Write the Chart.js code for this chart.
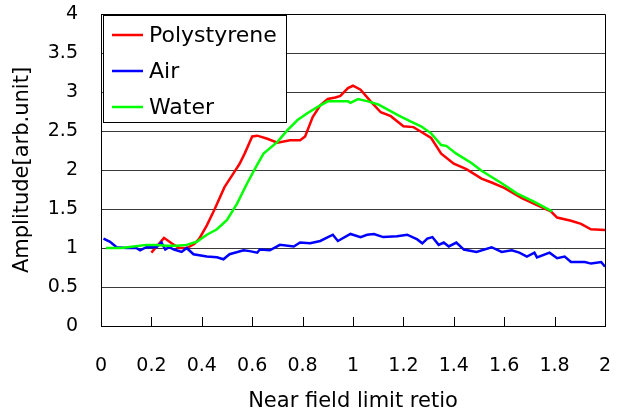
<!DOCTYPE html>
<html>
<head>
<meta charset="utf-8">
<script src="https://cdn.jsdelivr.net/npm/chart.js@4"></script>
<style>
	body { margin: 0; background: #fff; }
	canvas { display: block; }
</style>
</head>
<body>
<canvas id="chart" width="617" height="414"></canvas>
<script>
// values
const seriesNames = ['Polystyrene', 'Air', 'Water'];
const seriesColors = ['#ff0000', '#0000ff', '#00ff00'];

const polyX = [0.20, 0.25, 0.28, 0.31, 0.34, 0.37, 0.39, 0.42, 0.45, 0.49, 0.53, 0.55, 0.57, 0.60, 0.62, 0.66, 0.70, 0.75, 0.79, 0.81, 0.84, 0.87, 0.90, 0.93, 0.95, 0.98, 1.00, 1.03, 1.07, 1.11, 1.15, 1.20, 1.24, 1.27, 1.31, 1.35, 1.40, 1.45, 1.51, 1.55, 1.60, 1.67, 1.73, 1.785, 1.81, 1.865, 1.905, 1.944, 2.0];
const polyY = [0.94, 1.13, 1.06, 1.00, 1.00, 1.05, 1.12, 1.29, 1.49, 1.78, 1.98, 2.08, 2.21, 2.43, 2.44, 2.40, 2.35, 2.38, 2.38, 2.43, 2.68, 2.83, 2.91, 2.93, 2.95, 3.05, 3.08, 3.03, 2.88, 2.74, 2.69, 2.56, 2.55, 2.49, 2.41, 2.21, 2.08, 2.01, 1.89, 1.84, 1.77, 1.64, 1.55, 1.47, 1.39, 1.35, 1.31, 1.24, 1.23];

const airX = [0.01, 0.036, 0.062, 0.10, 0.14, 0.155, 0.18, 0.22, 0.24, 0.255, 0.27, 0.29, 0.32, 0.34, 0.367, 0.42, 0.46, 0.486, 0.51, 0.566, 0.59, 0.62, 0.63, 0.67, 0.71, 0.765, 0.79, 0.83, 0.87, 0.92, 0.94, 0.99, 1.03, 1.056, 1.083, 1.12, 1.175, 1.215, 1.255, 1.275, 1.295, 1.315, 1.34, 1.36, 1.38, 1.41, 1.44, 1.49, 1.55, 1.59, 1.63, 1.66, 1.69, 1.72, 1.73, 1.78, 1.81, 1.84, 1.865, 1.92, 1.945, 1.985, 2.0];
const airY = [1.12, 1.08, 1.01, 1.00, 1.00, 0.97, 1.01, 1.01, 1.07, 0.98, 1.01, 0.98, 0.95, 1.00, 0.92, 0.89, 0.88, 0.855, 0.92, 0.97, 0.96, 0.94, 0.98, 0.97, 1.04, 1.02, 1.07, 1.06, 1.09, 1.17, 1.09, 1.18, 1.14, 1.17, 1.18, 1.14, 1.15, 1.17, 1.11, 1.06, 1.12, 1.14, 1.04, 1.07, 1.02, 1.07, 0.98, 0.95, 1.01, 0.95, 0.97, 0.94, 0.89, 0.94, 0.88, 0.94, 0.87, 0.89, 0.82, 0.82, 0.80, 0.82, 0.76];

const waterX = [0.02, 0.08, 0.13, 0.18, 0.22, 0.26, 0.30, 0.34, 0.38, 0.42, 0.46, 0.50, 0.54, 0.58, 0.62, 0.645, 0.70, 0.74, 0.78, 0.82, 0.86, 0.90, 0.94, 0.98, 0.99, 1.02, 1.06, 1.10, 1.14, 1.18, 1.23, 1.27, 1.31, 1.35, 1.37, 1.41, 1.47, 1.51, 1.55, 1.59, 1.65, 1.72, 1.79];
const waterY = [1.00, 1.00, 1.02, 1.04, 1.04, 1.03, 1.03, 1.04, 1.08, 1.17, 1.24, 1.36, 1.57, 1.83, 2.07, 2.21, 2.36, 2.51, 2.64, 2.73, 2.81, 2.88, 2.88, 2.88, 2.86, 2.91, 2.88, 2.84, 2.77, 2.70, 2.62, 2.56, 2.47, 2.32, 2.31, 2.21, 2.09, 1.99, 1.91, 1.83, 1.70, 1.59, 1.47];

const FONT = 'DejaVu Sans';

function toPoints(xs, ys) {
	let pts = [];
	for (let i = 0; i < xs.length; i++) {
		pts.push({ x: xs[i], y: ys[i] });
	}
	return pts;
}

function makeDataset(idx, xs, ys, order) {
	return {
		label:			seriesNames[idx],
		data:			toPoints(xs, ys),
		borderColor:	seriesColors[idx],
		backgroundColor: seriesColors[idx],
		borderWidth:	2.5,
		pointRadius:	0,
		tension:		0,
		order:			order,
	};
}

// inner tick marks, plot frame and the boxed legend
const framePlugin = {
	id: 'frame',
	afterDatasetsDraw(chart) {
		const ctx = chart.ctx;
		const area = chart.chartArea;
		const xs = chart.scales.x;

		ctx.save();
		ctx.strokeStyle = '#000';
		ctx.lineWidth = 1;

		// upward tick marks on x axis
		xs.ticks.forEach(function(t) {
			let px = Math.round(xs.getPixelForValue(t.value)) + 0.5;
			ctx.beginPath();
			ctx.moveTo(px, area.bottom);
			ctx.lineTo(px, area.bottom - 9);
			ctx.stroke();
		});

		// top and right border
		ctx.beginPath();
		ctx.moveTo(Math.round(area.left), Math.round(area.top) + 0.5);
		ctx.lineTo(Math.round(area.right) + 0.5, Math.round(area.top) + 0.5);
		ctx.lineTo(Math.round(area.right) + 0.5, Math.round(area.bottom));
		ctx.stroke();

		// legend box
		const bx = 103.5, by = 15.5, bw = 183, bh = 107;
		ctx.fillStyle = '#fff';
		ctx.fillRect(bx, by, bw, bh);
		ctx.strokeRect(bx, by, bw, bh);

		ctx.font = '22px "' + FONT + '"';
		ctx.textBaseline = 'middle';
		ctx.textAlign = 'left';
		chart.data.datasets.forEach(function(ds, i) {
			let rowY = 35 + i * 36;
			ctx.strokeStyle = ds.borderColor;
			ctx.lineWidth = 2.5;
			ctx.beginPath();
			ctx.moveTo(112, rowY);
			ctx.lineTo(143, rowY);
			ctx.stroke();
			ctx.fillStyle = '#000';
			ctx.fillText(ds.label, 149, rowY + 1);
		});

		ctx.restore();
	}
};

new Chart(document.getElementById('chart'), {
	type: 'line',
	data: {
		datasets: [
			makeDataset(0, polyX, polyY, 3),
			makeDataset(1, airX, airY, 2),
			makeDataset(2, waterX, waterY, 1),
		]
	},
	options: {
		responsive: false,
		animation: false,
		layout: { padding: { top: 14, right: 12, left: 0, bottom: 0 } },
		plugins: {
			legend: { display: false },
			tooltip: { enabled: false },
		},
		scales: {
			x: {
				type: 'linear',
				min: 0,
				max: 2,
				ticks: {
					stepSize: 0.2,
					padding: 29,
					color: '#000',
					font: { family: FONT, size: 19 },
					maxRotation: 0,
					callback: function(v) { return String(Math.round(v * 10) / 10); }
				},
				grid: { display: true, drawOnChartArea: false, drawTicks: false },
				border: { color: '#000', width: 1 },
				title: {
					display: true,
					text: 'Near field limit retio',
					color: '#000',
					font: { family: FONT, size: 21 },
					padding: { top: 0, bottom: 0 }
				},
				afterFit: function(scale) {
					scale.height = 88;
					scale.paddingLeft = 0;
					scale.paddingRight = 0;
				}
			},
			y: {
				min: 0,
				max: 4,
				ticks: {
					stepSize: 0.5,
					padding: 23,
					color: '#000',
					font: { family: FONT, size: 19 },
					callback: function(v) { return String(v); }
				},
				grid: {
					drawTicks: false,
					color: function(c) { return c.tick && c.tick.value === 4 ? '#000' : '#3a3a3a'; },
					lineWidth: 1
				},
				border: { color: '#000', width: 1 },
				title: {
					display: true,
					text: 'Amplitude[arb.unit]',
					color: '#000',
					font: { family: FONT, size: 21 },
					padding: { top: 10, bottom: 0 }
				},
				afterFit: function(scale) {
					scale.width = 101;
					scale.paddingTop = 0;
					scale.paddingBottom = 0;
				}
			}
		}
	},
	plugins: [framePlugin]
});
</script>
</body>
</html>
